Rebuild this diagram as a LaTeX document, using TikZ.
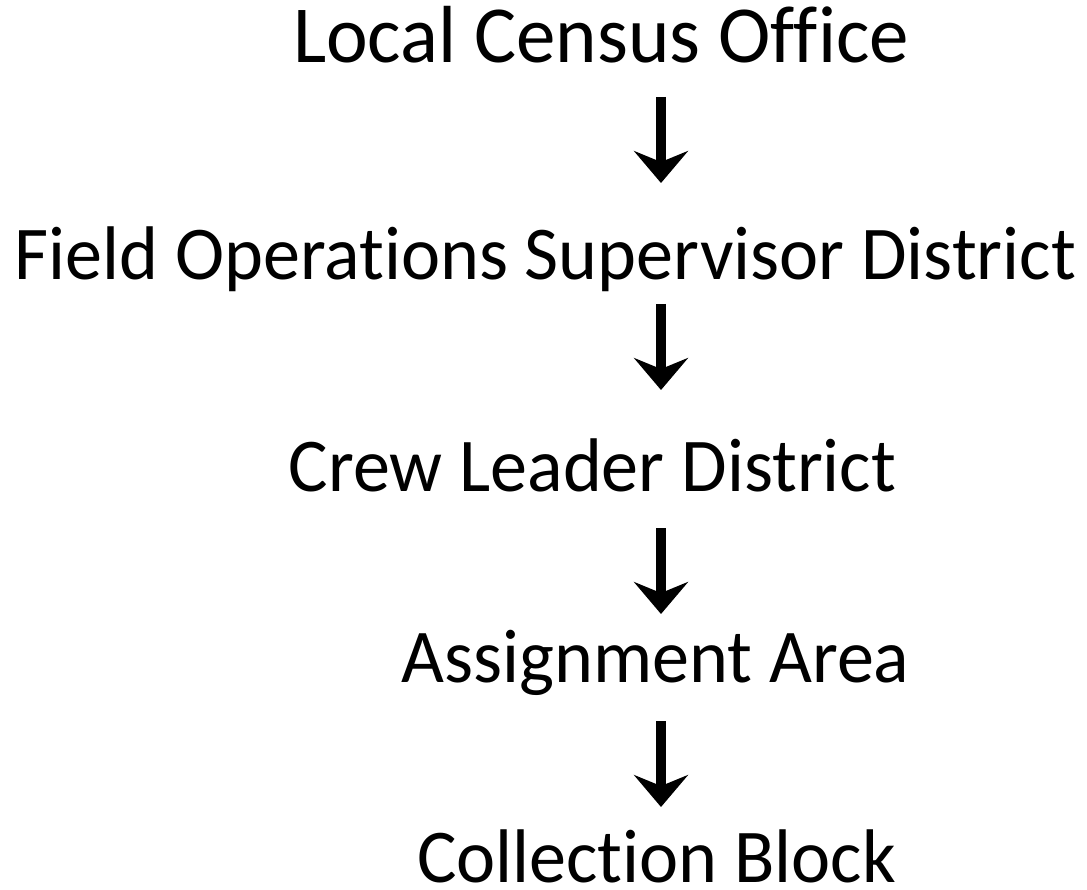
\documentclass[tikz,border=0pt]{standalone}
\usepackage{fontspec}
\setmainfont{Carlito}[Ligatures=NoCommon,FakeStretch=0.975]
\usetikzlibrary{arrows.meta,calc}
\begin{document}
\begin{tikzpicture}[x=1pt,y=-1pt,
  level/.style={anchor=base,inner sep=0pt,font=\fontsize{76}{80}\selectfont},
  flow/.style={line width=10pt,-{Stealth[length=32pt,width=54pt,inset=11pt]}}]
  \useasboundingbox (0,0) rectangle (1087,890);
  \coordinate (axis) at (661,0);
  \node[level,font=\fontsize{81}{85}\selectfont] (lco) at (601,63) {Local Census Office};
  \node[level] (fos) at (545.5,280) {Field Operations Supervisor District};
  \node[level] (cld) at (592.5,491) {Crew Leader District};
  \node[level] (aa)  at (655.5,682) {Assignment Area};
  \node[level] (cb)  at (656.5,882) {Collection Block};
  \draw[flow] ($(lco.base -| axis)+(0,34)$) -- ($(fos.base -| axis)+(0,-97)$);
  \draw[flow] ($(fos.base -| axis)+(0,24)$) -- ($(cld.base -| axis)+(0,-101)$);
  \draw[flow] ($(cld.base -| axis)+(0,37)$) -- ($(aa.base -| axis)+(0,-68)$);
  \draw[flow] ($(aa.base -| axis)+(0,39)$) -- ($(cb.base -| axis)+(0,-75)$);
\end{tikzpicture}
\end{document}
